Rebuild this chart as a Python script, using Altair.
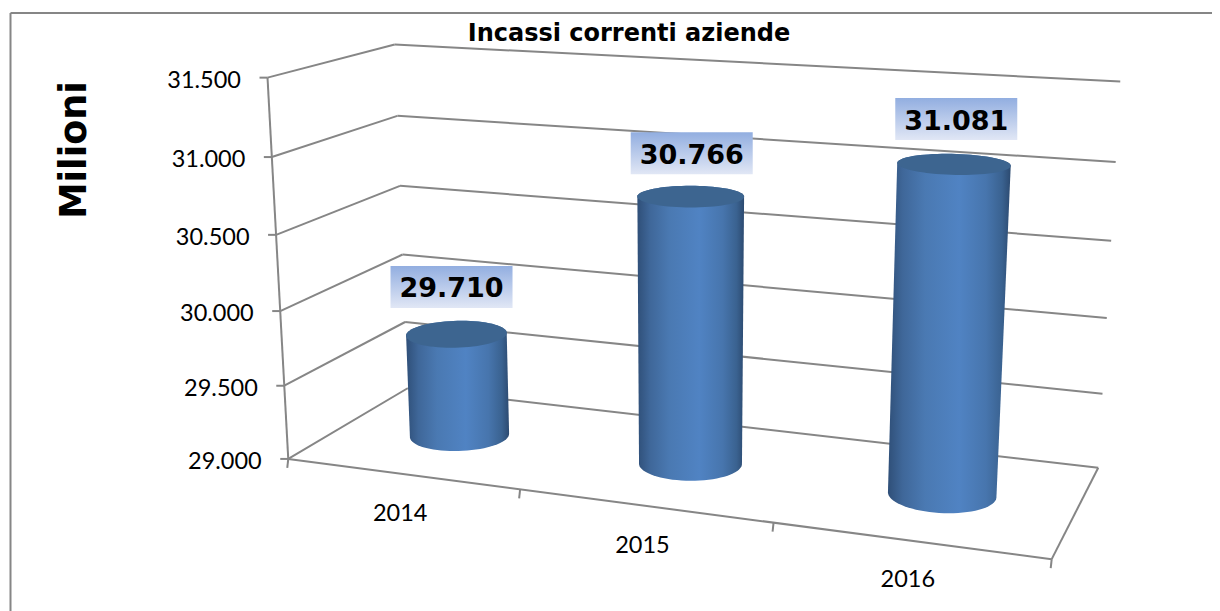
import numpy as np
import pandas as pd
import altair as alt

title = "Incassi correnti aziende"
y_title = "Milioni"
years = ["2014", "2015", "2016"]
values = [29710, 30766, 31081]
value_labels = ["29.710", "30.766", "31.081"]
y_ticks = [29000, 29500, 30000, 30500, 31000, 31500]
y_tick_labels = ["29.000", "29.500", "30.000", "30.500", "31.000", "31.500"]
V0, V1 = 29000, 31500

# Picture of the 3D box: (u along years, w in depth, value) -> pixel, fitted as one projective camera
front_left = [(288, 459), (285, 386), (281, 310), (277, 233), (272, 157), (266.5, 78.5)]
back_left = [(408, 388), (405, 322), (402, 256), (400, 186), (397, 115.5), (395, 44)]
back_right = [(1098, 466), (1103, 394), (1107, 318), (1111, 241), (1116, 162), (1120, 82)]
obs = []
for k, v in enumerate(y_ticks):
    obs.append(((0, 0, v), front_left[k]))
    obs.append(((0, 1, v), back_left[k]))
    obs.append(((1, 1, v), back_right[k]))
obs += [((1, 0, V0), (1052, 558)), ((1 / 3, 0, V0), (519, 490)), ((2 / 3, 0, V0), (773, 525))]
A = []
for (u, w, v), (px, py) in obs:
    X = [u, w, (v - V0) / (V1 - V0), 1]
    A.append(X + [0, 0, 0, 0] + [-px * c for c in X])
    A.append([0, 0, 0, 0] + X + [-py * c for c in X])
P = np.linalg.svd(np.array(A, float))[2][-1].reshape(3, 4)


def project(u, w, v):
    h = P @ np.array([u, w, (v - V0) / (V1 - V0), 1.0])
    return float(h[0] / h[2]), float(h[1] / h[2])


X_SCALE = alt.Scale(domain=[8, 1212], range=[0, 1204], nice=False, zero=False)
Y_SCALE = alt.Scale(domain=[8, 611], range=[0, 603], nice=False, zero=False)
ex = lambda f="x": alt.X(f"{f}:Q", scale=X_SCALE, axis=None)
ey = lambda f="y": alt.Y(f"{f}:Q", scale=Y_SCALE, axis=None)
GREY = "#868686"

# Frame and the box's lines
segs = []


def seg(a, b):
    i = len(segs)
    segs.append({"x": a[0], "y": a[1], "x2": b[0], "y2": b[1], "i": i})


for v in y_ticks:
    fl, bl, br = project(0, 0, v), project(0, 1, v), project(1, 1, v)
    seg(fl, bl)
    seg(bl, br)
    seg((fl[0] - 8, fl[1]), fl)
seg(project(0, 0, V0), project(0, 0, V1))
seg(project(0, 0, V0), project(1, 0, V0))
seg(project(1, 0, V0), project(1, 1, V0))
for u in [0, 1 / 3, 2 / 3, 1]:
    p = project(u, 0, V0)
    seg(p, (p[0] - 1, p[1] + 9))
lines = alt.Chart(pd.DataFrame(segs)).mark_rule(color=GREY, strokeWidth=2).encode(
    x=ex(), y=ey(), x2="x2:Q", y2="y2:Q"
)

frame = alt.Chart(pd.DataFrame([
    {"x": 10.5, "y": 13, "x2": 1212, "y2": 13},
    {"x": 10.5, "y": 13, "x2": 10.5, "y2": 611},
])).mark_rule(color="#868686", strokeWidth=2).encode(x=ex(), y=ey(), x2="x2:Q", y2="y2:Q")

# Cylinders
BODY = alt.Gradient(gradient="linear", x1=0, y1=0, x2=1, y2=0, stops=[
    alt.GradientStop(offset=0, color="#2f4f78"),
    alt.GradientStop(offset=0.12, color="#3f6799"),
    alt.GradientStop(offset=0.3, color="#4a79b2"),
    alt.GradientStop(offset=0.58, color="#5083c3"),
    alt.GradientStop(offset=0.8, color="#4775ad"),
    alt.GradientStop(offset=0.93, color="#3a6290"),
    alt.GradientStop(offset=1, color="#2c4a70"),
])
R_U, R_W = 0.067, 0.2
W_C = 0.5
theta = np.linspace(0, 2 * np.pi, 73)[:-1]


def ring(uc, v):
    return [project(uc + R_U * np.cos(t), W_C + R_W * np.sin(t), v) for t in theta]


def hull(pts):
    pts = sorted(set(pts))
    def half(seq):
        out = []
        for p in seq:
            while len(out) > 1 and (out[-1][0] - out[-2][0]) * (p[1] - out[-2][1]) - (out[-1][1] - out[-2][1]) * (p[0] - out[-2][0]) <= 0:
                out.pop()
            out.append(p)
        return out[:-1]
    return half(pts) + half(pts[::-1])


def outline(pts):
    pts = list(pts) + [pts[0]]
    return pd.DataFrame({"x": [p[0] for p in pts], "y": [p[1] for p in pts], "i": range(len(pts))})


layers = [frame, lines]
U_C = [1 / 6, 1 / 2, 5 / 6]
label_dx = [-5, 1, 2.5]
label_dy = [-47, -43, -45]
for uc, v, lab, ldx, ldy in zip(U_C, values, value_labels, label_dx, label_dy):
    top, base = ring(uc, v), ring(uc, V0)
    layers.append(alt.Chart(outline(hull(top + base))).mark_line(fill=BODY, strokeWidth=0, interpolate="linear").encode(
        x=ex(), y=ey(), order="i:Q"))
    layers.append(alt.Chart(outline(top)).mark_line(fill="#3d6590", strokeWidth=0, interpolate="linear").encode(
        x=ex(), y=ey(), order="i:Q"))
    cx, cy = project(uc, W_C, v)
    cx += ldx
    cy += ldy
    box = pd.DataFrame([{"x": cx - 61, "x2": cx + 61, "y": cy - 21, "y2": cy + 21}])
    layers.append(alt.Chart(box).mark_rect(color=alt.Gradient(
        gradient="linear", x1=0, y1=0, x2=0, y2=1,
        stops=[alt.GradientStop(offset=0, color="#92aee0"), alt.GradientStop(offset=1, color="#e1e7f5")]
    )).encode(x=ex(), y=ey(), x2="x2:Q", y2="y2:Q"))
    layers.append(alt.Chart(pd.DataFrame([{"x": cx, "y": cy + 2.5, "t": lab}])).mark_text(
        font="DejaVu Sans", fontWeight="bold", fontSize=27, color="black", baseline="middle", align="center"
    ).encode(x=ex(), y=ey(), text="t:N"))

# Axis labels
ytxt = pd.DataFrame([
    {"x": project(0, 0, v)[0] - 26.5, "y": project(0, 0, v)[1] + 3, "t": t}
    for v, t in zip(y_ticks, y_tick_labels)
])
layers.append(alt.Chart(ytxt).mark_text(font="Lato", fontSize=23.5, color="black", align="right", baseline="middle").encode(
    x=ex(), y=ey(), text="t:N"))
xtxt = pd.DataFrame([
    {"x": project(u, 0, V0)[0] - 1.5, "y": project(u, 0, V0)[1] + 40, "t": t}
    for u, t in zip(U_C, years)
])
layers.append(alt.Chart(xtxt).mark_text(font="Lato", fontSize=23.5, color="black", align="center", baseline="middle").encode(
    x=ex(), y=ey(), text="t:N"))

layers.append(alt.Chart(pd.DataFrame([{"x": 629, "y": 34, "t": title}])).mark_text(
    font="DejaVu Sans", fontWeight="bold", fontSize=24, color="black", align="center", baseline="middle"
).encode(x=ex(), y=ey(), text="t:N"))
layers.append(alt.Chart(pd.DataFrame([{"x": 75, "y": 150, "t": y_title}])).mark_text(
    font="DejaVu Sans", fontWeight="bold", fontSize=36.5, color="black", align="center", baseline="middle", angle=270
).encode(x=ex(), y=ey(), text="t:N"))

chart = alt.layer(*layers).properties(
    width=1204, height=603, padding=0, autosize=alt.AutoSizeParams(type="none"), background="white"
).configure_view(stroke=None)

chart.save("out.html", embed_options={"renderer": "svg", "actions": False})
